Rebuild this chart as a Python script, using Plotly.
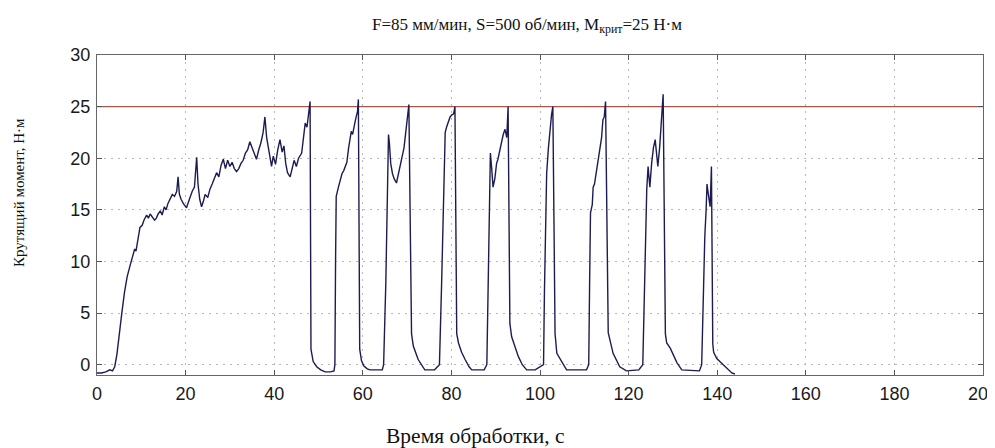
import plotly.graph_objects as go

# time, s
time_s = [
    0, 1, 2, 2.9, 3.5, 4.0, 4.5, 5.0, 5.6, 6.2, 6.8, 7.4, 8.0, 8.5, 8.8, 9.2, 9.7,
    10.2, 10.6, 11.2, 11.6, 12.0, 12.5, 13.0, 13.4, 13.8, 14.3, 14.7, 15.2, 15.6,
    16.0, 16.5, 17.0, 17.5, 18.0, 18.3, 18.6, 19.0, 19.5, 20.2, 20.6, 21.0, 21.5,
    22.0, 22.5, 22.8, 23.2, 23.6, 24.0, 24.4, 25.0, 25.5, 26.0, 26.5, 27.0, 27.5,
    28.0, 28.5, 29.0, 29.5, 30.0, 30.5, 31.0, 31.5, 32.0, 32.5, 33.0, 33.5, 34.0,
    34.5, 35.0, 35.5, 36.0, 36.5, 37.0, 37.5, 37.9, 38.3, 38.8, 39.4, 39.8, 40.3,
    40.8, 41.3, 41.8, 42.2, 42.6, 43.0, 43.6, 44.0, 44.5, 45.0, 45.5, 46.2, 46.6,
    47.0, 47.4, 47.8, 48.1,
    48.3, 48.8, 49.6, 50.5, 51.5, 52.7, 53.5,
    53.7, 53.85, 54.0, 54.5, 54.9, 55.3, 55.7, 56.0, 56.4, 56.8, 57.1, 57.4, 57.7,
    58.0, 58.2, 58.5, 58.8, 59.0,
    59.3, 59.7, 60.2, 61.0, 61.6, 64.4,
    64.7, 65.2, 65.5, 65.8, 66.0, 66.3, 66.7, 67.1, 67.6, 68.0, 68.4, 68.9, 69.3,
    69.7, 70.0, 70.4,
    71.0, 71.4, 72.5, 73.2, 74.0, 76.2,
    77.3, 77.8, 78.3, 78.6, 78.9, 79.3, 79.7, 80.1, 80.5, 80.8,
    81.2, 81.6, 82.3, 83.1, 84.0, 84.6, 87.4,
    88.0, 88.3, 88.6, 88.8, 89.1, 89.4, 89.8, 90.2, 90.5, 90.9, 91.3, 91.7, 92.1,
    92.5, 92.8,
    93.2, 93.6, 94.3, 95.1, 96.0, 97.0, 98.9,
    100.8, 101.0, 101.2, 101.5, 101.9, 102.3, 102.6, 102.9,
    103.4, 103.8, 104.9, 106.0, 110.5,
    111.0, 111.2, 111.4, 111.8, 112.0, 112.3, 112.7, 113.1, 113.5, 113.9, 114.2,
    114.5, 114.8,
    115.4, 116.5, 118.0, 119.5, 122.3,
    123.2, 123.5, 123.8, 124.1, 124.4, 124.8, 125.2, 125.6, 126.0, 126.3, 126.6,
    127.0, 127.3, 127.5, 127.8,
    128.3, 128.6, 129.4, 130.9, 132.0, 136.0,
    136.5, 136.6, 137.0, 137.2, 137.5, 137.7, 138.0, 138.4, 138.7,
    139.0, 139.2, 139.9, 140.6, 141.4, 142.3, 143.3, 144.0,
]

# torque, N·m
torque_nm = [
    -0.8, -0.8, -0.7, -0.5, -0.6, -0.2, 1.0, 3.0, 5.0, 7.0, 8.5, 9.5, 10.5, 11.2, 11.0, 12.2, 13.3,
    13.5, 14.0, 14.5, 14.2, 14.6, 14.3, 14.0, 14.2, 14.6, 14.9, 14.5, 15.3, 15.0,
    15.6, 16.0, 16.5, 16.3, 16.8, 18.2, 16.5, 16.0, 15.6, 15.2, 15.8, 16.2, 16.8,
    17.2, 20.1, 17.5, 16.0, 15.3, 15.8, 16.5, 16.2, 17.0, 17.5, 18.0, 18.6, 18.2,
    19.3, 19.9, 19.0, 19.8, 19.2, 19.6, 19.0, 18.7, 19.0, 19.5, 19.8, 20.5, 20.8,
    21.6, 21.0, 20.5, 19.9, 20.8, 21.5, 22.5, 24.0, 22.0, 20.5, 19.2, 20.2, 19.4,
    20.8, 21.8, 20.6, 21.2, 19.5, 18.6, 18.2, 19.0, 19.8, 19.2, 20.0, 20.5, 22.0,
    23.4, 23.0, 24.5, 25.5,
    1.5, 0.3, -0.2, -0.5, -0.7, -0.7, -0.6,
    0.0, 10.0, 16.3, 17.2, 18.0, 18.5, 18.8, 19.2, 19.6, 21.0, 22.0, 22.6, 22.3,
    23.2, 23.4, 24.0, 24.5, 25.7,
    1.5, 0.4, -0.1, -0.4, -0.5, -0.5,
    0.0, 8.0, 16.0, 22.3, 21.5, 19.5, 18.5, 18.0, 17.6, 18.5, 19.2, 20.2, 21.0,
    22.5, 23.5, 25.2,
    3.0, 1.8, 0.5, 0.0, -0.5, -0.5,
    0.0, 8.0, 16.0, 22.5, 23.0, 23.5, 24.0, 24.2, 24.3, 25.0,
    3.0, 2.1, 1.2, 0.5, -0.2, -0.5, -0.5,
    0.0, 8.0, 16.0, 20.5, 19.0, 17.2, 18.0, 19.5, 19.9, 20.8, 21.5, 22.3, 22.8,
    22.0, 25.0,
    4.0, 2.7, 1.7, 0.8, 0.0, -0.5, -0.5,
    0.0, 7.0, 12.0, 18.5, 21.0, 23.0, 24.2, 25.0,
    3.0, 1.1, 0.3, -0.5, -0.5,
    0.0, 8.0, 14.7, 15.5, 17.2, 17.5, 18.6, 19.6, 20.5, 22.0, 23.7,
    24.0, 25.5,
    3.1, 1.1, -0.2, -0.6, -0.5,
    0.0, 6.0, 12.0, 17.0, 19.2, 17.2, 19.5, 21.0, 21.8, 20.5, 19.2,
    21.0, 23.0, 23.7, 26.2,
    3.0, 2.1, 1.6, 0.2, -0.5, -0.6,
    0.0, 2.3, 8.0, 12.4, 15.0, 17.5, 16.5, 15.3, 19.2,
    2.0, 1.2, 0.6, 0.3, 0.0, -0.4, -0.8, -0.9,
]

limit_x = [0, 200]
limit_y = [25, 25]

x_ticks = [0, 20, 40, 60, 80, 100, 120, 140, 160, 180, 200]
y_ticks = [0, 5, 10, 15, 20, 25, 30]

title_text = "F=85 мм/мин, S=500 об/мин, M<sub>крит</sub>=25 Н·м"
x_title = "Время обработки, с"
y_title = "Крутящий момент, Н·м"

fig = go.Figure()
fig.add_trace(go.Scatter(x=limit_x, y=limit_y, mode="lines",
                         line=dict(color="#a8554a", width=1.2), showlegend=False))
fig.add_trace(go.Scatter(x=time_s, y=torque_nm, mode="lines",
                         line=dict(color="#1c1c52", width=1.4), showlegend=False))

serif = "Liberation Serif, Times New Roman, serif"
sans = "Liberation Sans, Arial, sans-serif"

axis_common = dict(
    showline=True, linecolor="#666666", linewidth=1.4, mirror="ticks",
    ticks="inside", ticklen=5, tickcolor="#555555",
    showgrid=True, gridcolor="#b8b8b8", griddash="2px,5px", gridwidth=1,
    zeroline=False, automargin=False,
    tickfont=dict(family=sans, size=18, color="#1a1a1a"),
)

# the page body has an 8px margin, so the figure sits 8px right and down
fig.update_layout(
    width=995, height=448,
    margin=dict(l=89, r=20, t=47, b=81),
    paper_bgcolor="white", plot_bgcolor="white",
    title=dict(text=title_text,
               x=519 / 995, xanchor="center", y=0.965, yanchor="middle",
               font=dict(family=serif, size=17, color="#111111")),
    xaxis=dict(range=[0, 200], tickvals=x_ticks, ticktext=[str(v) for v in x_ticks],
               ticklabeloverflow="allow", ticklabelstandoff=2,
               **axis_common),
    yaxis=dict(range=[-1, 30], tickvals=y_ticks, ticktext=[str(v) for v in y_ticks],
               ticklabelstandoff=2,
               **axis_common),
    annotations=[
        dict(text=x_title, xref="paper", yref="paper",
             x=(475 - 97) / 886, y=(375 - 436) / 320,
             xanchor="center", yanchor="middle", showarrow=False,
             font=dict(family=serif, size=21.5, color="#111111")),
        dict(text=y_title, xref="paper", yref="paper",
             x=(19 - 97) / 886, y=(375 - 193) / 320, textangle=-90,
             xanchor="center", yanchor="middle", showarrow=False,
             font=dict(family=serif, size=15, color="#111111")),
    ],
)

fig.write_html("out.html")
